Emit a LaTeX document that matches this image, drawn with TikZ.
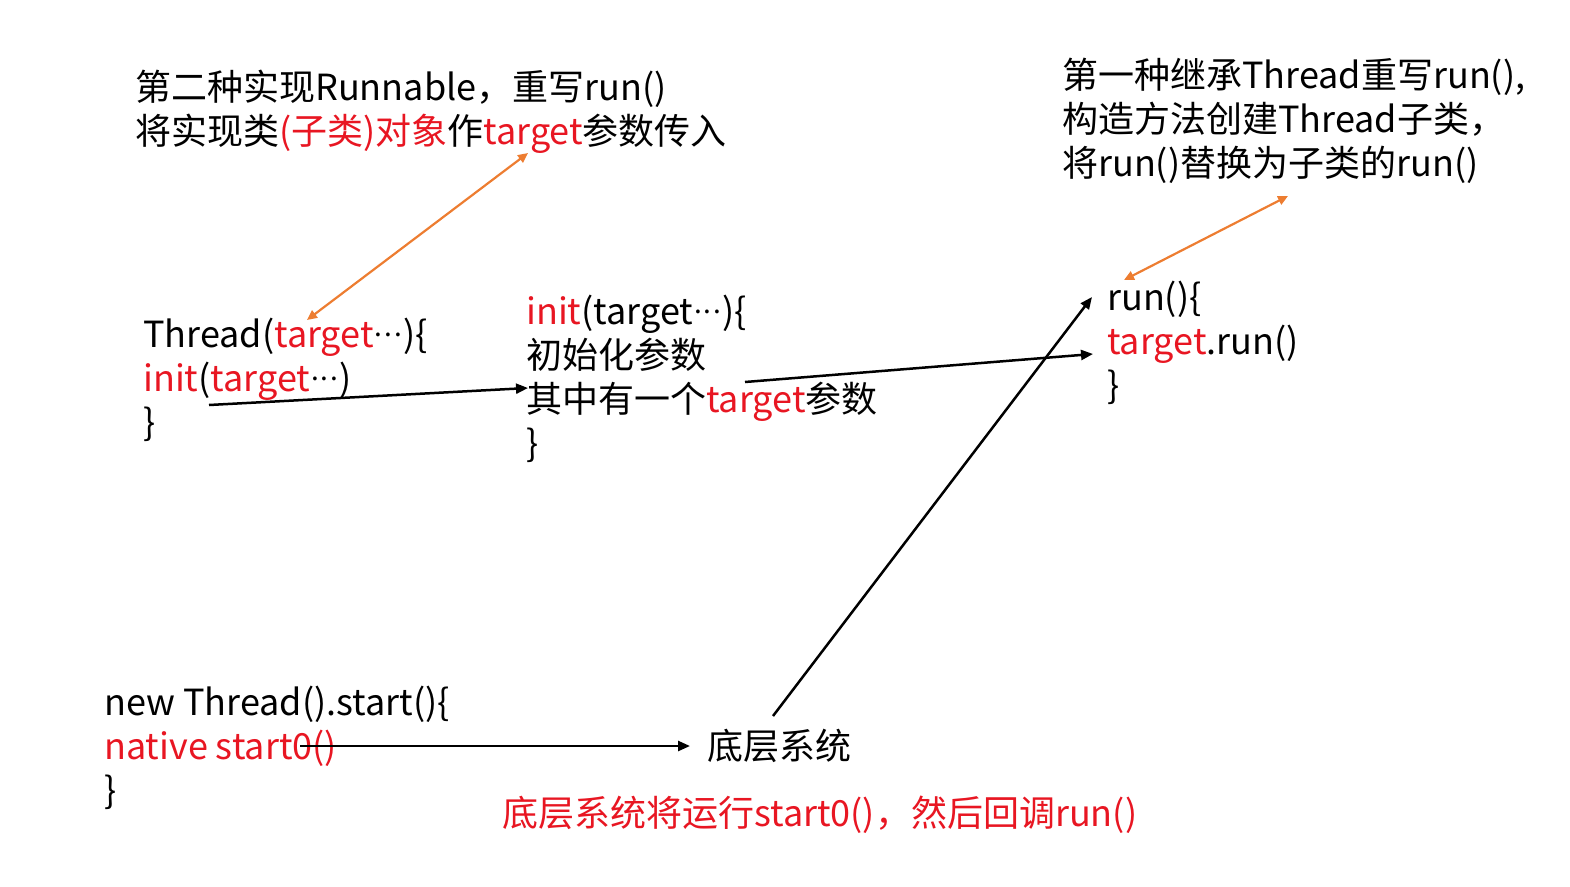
\documentclass[tikz,border=0pt]{standalone}
\usepackage{fontspec}
\setmainfont{Noto Sans CJK SC}
\usepackage{tikz}
\usetikzlibrary{arrows.meta}
\usepackage{xcolor}

\definecolor{codered}{RGB}{232,22,34}
\definecolor{noteorange}{RGB}{237,125,49}
\newcommand{\tred}[1]{\textcolor{codered}{#1}}
\newcommand{\mdots}{\kern1pt\raisebox{0.32em}{\fontsize{28}{28}\selectfont.\kern2pt.\kern2pt.}\kern1pt}

\begin{document}
\begin{tikzpicture}[%
    x=1pt,
    y=-1pt,
    >={Triangle[length=12pt,width=10pt]},
    code/.style={%
      anchor=north west,
      align=left,
      inner sep=0pt,
      font=\fontsize{36}{44}\selectfont
    },
    link/.style={%
      ->,
      line width=2.5pt
    },
    note/.style={%
      {Triangle[length=10pt,width=9pt]}-{Triangle[length=10pt,width=9pt]},
      draw=noteorange,
      line width=2.2pt
    }
  ]
    \useasboundingbox (0,0) rectangle (1570,886);

    \node[code] (second) at (135,70)  {第二种实现Runnable，重写run()\\
      将实现类\tred{(子类)对象}作\tred{target}参数传入};
    \node[code] (first)  at (1062,58) {第一种继承Thread重写run(),\\
      构造方法创建Thread子类，\\将run()替换为子类的run()};
    \node[code] (thread) at (143,318) {Thread(\tred{target}\mdots)\{\\
      \tred{init}(\tred{target}\mdots)\\\}};
    \node[code] (init)   at (526,295) {\tred{init}(target\mdots)\{\\初始化参数\\
      其中有一个\tred{target}参数\\\}};
    \node[code] (run)    at (1107,281) {run()\{\\\tred{target}.run()\\\}};
    \node[code] (start)  at (104,686) {new Thread().start()\{\\\tred{native start0()}\\\}};
    \node[code] (sys)    at (707,729) {底层系统};
    \node[code, text=codered] (callback) at (502,796) {底层系统将运行start0()，然后回调run()};

    % arrow ends
    \coordinate (initout)  at (209,405);
    \coordinate (initin)   at (528,388);
    \coordinate (paramout) at (745,382);
    \coordinate (runin)    at (1093,354);
    \coordinate (sysout)   at (773,716);
    \coordinate (runtop)   at (1092,297);
    \coordinate (startout) at (300,746);
    \coordinate (sysin)    at (690,746);
    \coordinate (secondpt) at (528,153);
    \coordinate (threadpt) at (307,320);
    \coordinate (firstpt)  at (1288,196);
    \coordinate (runpt)    at (1124,280);

    \draw[link] (initout)  -- (initin);
    \draw[link] (paramout) -- (runin);
    \draw[link] (sysout)   -- (runtop);
    \draw[link] (startout) -- (sysin);
    \draw[note] (secondpt) -- (threadpt);
    \draw[note] (firstpt)  -- (runpt);
  \end{tikzpicture}
\end{document}
